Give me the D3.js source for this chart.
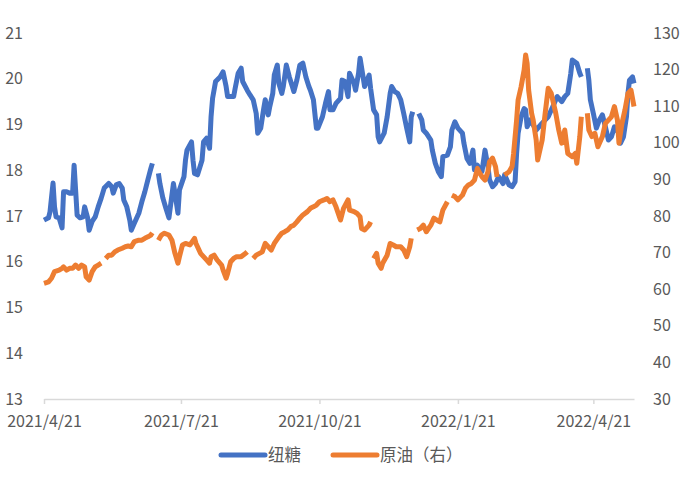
<!DOCTYPE html>
<html>
<head>
<meta charset="utf-8">
<script src="https://cdn.jsdelivr.net/npm/d3@7"></script>
<style>
  body { margin: 0; background: #fff; }
  svg text { font-family: 'Noto Sans CJK SC', 'Noto Sans', sans-serif; fill: #595959; }
</style>
</head>
<body>
<div id="chart"></div>
<script>
// 纽糖 (left axis), null = no quote that day
const sugar = [
  ['2021-04-21', 16.91], ['2021-04-24', 16.96], ['2021-04-25', 17.09], ['2021-04-27', 17.72],
  ['2021-04-28', 17.20], ['2021-04-29', 16.98], ['2021-05-01', 16.96], ['2021-05-03', 16.74],
  ['2021-05-04', 17.53], ['2021-05-06', 17.53], ['2021-05-08', 17.50], ['2021-05-10', 17.50],
  ['2021-05-11', 18.11], ['2021-05-12', 17.57], ['2021-05-13', 17.02], ['2021-05-15', 16.96],
  ['2021-05-17', 16.98], ['2021-05-18', 17.20], ['2021-05-20', 16.96], ['2021-05-21', 16.69],
  ['2021-05-23', 16.88], ['2021-05-25', 16.98], ['2021-05-27', 17.20], ['2021-05-29', 17.39],
  ['2021-05-31', 17.61], ['2021-06-03', 17.71], ['2021-06-05', 17.64], ['2021-06-06', 17.50],
  ['2021-06-08', 17.68], ['2021-06-10', 17.71], ['2021-06-12', 17.61], ['2021-06-13', 17.35],
  ['2021-06-15', 17.20], ['2021-06-17', 16.91], ['2021-06-18', 16.69], ['2021-06-20', 16.84],
  ['2021-06-23', 17.06], ['2021-06-25', 17.31], ['2021-06-27', 17.53], ['2021-06-29', 17.79],
  ['2021-07-01', 18.04], ['2021-07-02', 18.15], ['2021-07-04', null], ['2021-07-06', 17.93],
  ['2021-07-07', 17.71], ['2021-07-09', 17.39], ['2021-07-11', 17.17], ['2021-07-13', 16.96],
  ['2021-07-16', 17.71], ['2021-07-17', 17.50], ['2021-07-19', 17.06], ['2021-07-20', 17.57],
  ['2021-07-23', 17.86], ['2021-07-24', 18.22], ['2021-07-25', 18.44], ['2021-07-28', 18.62],
  ['2021-07-29', 18.22], ['2021-07-30', 17.93], ['2021-08-01', 17.90], ['2021-08-04', 18.22],
  ['2021-08-05', 18.62], ['2021-08-07', 18.70], ['2021-08-09', 18.48], ['2021-08-10', 19.17],
  ['2021-08-11', 19.57], ['2021-08-13', 19.94], ['2021-08-16', 20.04], ['2021-08-18', 20.15],
  ['2021-08-20', 19.83], ['2021-08-21', 19.61], ['2021-08-25', 19.61], ['2021-08-26', 19.79],
  ['2021-08-28', 20.12], ['2021-08-30', 20.23], ['2021-08-31', 19.94], ['2021-09-03', 19.75],
  ['2021-09-05', 19.64], ['2021-09-07', 19.54], ['2021-09-09', 19.24], ['2021-09-10', 18.81],
  ['2021-09-12', 18.92], ['2021-09-14', 19.35], ['2021-09-15', 19.54], ['2021-09-17', 19.21],
  ['2021-09-18', 19.39], ['2021-09-20', 19.68], ['2021-09-21', 20.08], ['2021-09-23', 20.30],
  ['2021-09-24', 19.90], ['2021-09-26', 19.68], ['2021-09-27', 19.83], ['2021-09-29', 20.30],
  ['2021-10-01', 20.04], ['2021-10-03', 19.83], ['2021-10-04', 19.72], ['2021-10-06', 19.97],
  ['2021-10-08', 20.30], ['2021-10-10', 20.34], ['2021-10-12', 20.04], ['2021-10-14', 19.83],
  ['2021-10-15', 19.75], ['2021-10-17', 19.54], ['2021-10-19', 18.92], ['2021-10-20', 18.92],
  ['2021-10-23', 19.17], ['2021-10-25', 19.46], ['2021-10-27', 19.72], ['2021-10-28', 19.32],
  ['2021-10-30', 19.32], ['2021-11-01', 19.46], ['2021-11-04', 19.57], ['2021-11-05', 19.97],
  ['2021-11-07', 19.94], ['2021-11-09', 19.61], ['2021-11-10', 20.12], ['2021-11-13', 19.90],
  ['2021-11-14', 19.75], ['2021-11-16', 20.12], ['2021-11-17', 20.45], ['2021-11-19', 20.04],
  ['2021-11-20', 19.83], ['2021-11-23', 20.08], ['2021-11-24', 19.79], ['2021-11-26', 19.32],
  ['2021-11-28', 19.21], ['2021-11-29', 18.73], ['2021-11-30', 18.62], ['2021-12-03', 18.81],
  ['2021-12-05', 19.17], ['2021-12-07', 19.68], ['2021-12-08', 19.83], ['2021-12-10', 19.72],
  ['2021-12-12', 19.68], ['2021-12-14', 19.54], ['2021-12-16', 19.24], ['2021-12-18', 18.92],
  ['2021-12-20', 18.62], ['2021-12-21', 19.17], ['2021-12-22', 19.28], ['2021-12-24', null],
  ['2021-12-26', 19.24], ['2021-12-28', 19.10], ['2021-12-29', 18.88], ['2021-12-31', 18.81],
  ['2022-01-03', 18.66], ['2022-01-04', 18.44], ['2022-01-06', 18.15], ['2022-01-08', 17.97],
  ['2022-01-10', 17.86], ['2022-01-11', 18.30], ['2022-01-14', 18.33], ['2022-01-16', 18.51],
  ['2022-01-17', 18.88], ['2022-01-19', 19.06], ['2022-01-21', 18.92], ['2022-01-24', 18.81],
  ['2022-01-25', 18.59], ['2022-01-27', 18.26], ['2022-01-29', 18.15], ['2022-01-31', 18.44],
  ['2022-02-01', 18.01], ['2022-02-03', 18.11], ['2022-02-05', 17.97], ['2022-02-06', 17.97],
  ['2022-02-08', 18.44], ['2022-02-10', 18.08], ['2022-02-11', 17.79], ['2022-02-13', 17.64],
  ['2022-02-15', 17.71], ['2022-02-17', 17.86], ['2022-02-20', 17.71], ['2022-02-21', 17.90],
  ['2022-02-24', 17.68], ['2022-02-26', 17.64], ['2022-02-28', 17.75], ['2022-03-01', 18.37],
  ['2022-03-02', 18.81], ['2022-03-04', 19.17], ['2022-03-06', 19.35], ['2022-03-07', 19.32],
  ['2022-03-08', 18.95], ['2022-03-10', 19.10], ['2022-03-14', 18.88], ['2022-03-18', 19.03],
  ['2022-03-22', 19.17], ['2022-03-25', 19.39], ['2022-03-28', 19.61], ['2022-03-31', 19.50],
  ['2022-04-02', 19.61], ['2022-04-04', 19.68], ['2022-04-06', 20.12], ['2022-04-07', 20.41],
  ['2022-04-10', 20.34], ['2022-04-12', 20.12], ['2022-04-13', 20.04], ['2022-04-15', null],
  ['2022-04-17', 20.23], ['2022-04-18', 19.97], ['2022-04-19', 19.54], ['2022-04-21', 19.24],
  ['2022-04-23', 18.92], ['2022-04-25', 19.10], ['2022-04-27', 19.21], ['2022-04-29', 18.95],
  ['2022-05-01', 18.66], ['2022-05-03', 18.73], ['2022-05-05', 18.95], ['2022-05-08', 18.81],
  ['2022-05-09', 18.59], ['2022-05-11', 18.73], ['2022-05-13', 19.17], ['2022-05-14', 19.68],
  ['2022-05-15', 19.97], ['2022-05-17', 20.04], ['2022-05-18', 19.90]
];

// 原油 (right axis)
const oil = [
  ['2021-04-21', 61.6], ['2021-04-24', 62.0], ['2021-04-26', 63.0], ['2021-04-28', 64.8],
  ['2021-05-01', 65.2], ['2021-05-03', 65.7], ['2021-05-04', 66.1], ['2021-05-06', 65.2],
  ['2021-05-08', 65.7], ['2021-05-10', 65.7], ['2021-05-12', 66.6], ['2021-05-14', 65.7],
  ['2021-05-16', 66.6], ['2021-05-18', 66.1], ['2021-05-19', 63.4], ['2021-05-21', 62.5],
  ['2021-05-23', 64.8], ['2021-05-25', 66.1], ['2021-05-27', 66.6], ['2021-05-29', 67.1],
  ['2021-05-31', null], ['2021-06-01', 68.4], ['2021-06-03', 69.3], ['2021-06-05', 69.3],
  ['2021-06-07', 70.2], ['2021-06-09', 70.7], ['2021-06-12', 71.2], ['2021-06-14', 71.6],
  ['2021-06-16', 71.8], ['2021-06-18', 71.6], ['2021-06-20', 73.0], ['2021-06-23', 73.4],
  ['2021-06-25', 73.4], ['2021-06-27', 73.9], ['2021-06-29', 74.3], ['2021-07-01', 74.8],
  ['2021-07-02', 75.4], ['2021-07-04', null], ['2021-07-06', 73.4], ['2021-07-08', 74.8],
  ['2021-07-10', 75.3], ['2021-07-13', 74.8], ['2021-07-15', 73.4], ['2021-07-17', 69.8],
  ['2021-07-19', 67.1], ['2021-07-20', 68.9], ['2021-07-22', 72.1], ['2021-07-24', 72.5],
  ['2021-07-27', 72.1], ['2021-07-30', 73.9], ['2021-07-31', 72.5], ['2021-08-03', 69.8],
  ['2021-08-05', 68.9], ['2021-08-07', 68.0], ['2021-08-09', 67.1], ['2021-08-10', 68.9],
  ['2021-08-12', 69.3], ['2021-08-14', 68.0], ['2021-08-17', 66.6], ['2021-08-18', 65.2],
  ['2021-08-20', 63.0], ['2021-08-21', 64.3], ['2021-08-23', 67.5], ['2021-08-25', 68.4],
  ['2021-08-27', 68.9], ['2021-08-30', 68.9], ['2021-09-02', 69.8], ['2021-09-03', 70.2],
  ['2021-09-05', null], ['2021-09-07', 68.4], ['2021-09-09', 69.3], ['2021-09-13', 70.2],
  ['2021-09-15', 72.5], ['2021-09-17', 71.6], ['2021-09-19', 70.7], ['2021-09-21', 72.5],
  ['2021-09-24', 74.3], ['2021-09-26', 75.3], ['2021-09-28', 75.7], ['2021-09-30', 76.2],
  ['2021-10-02', 77.1], ['2021-10-04', 77.5], ['2021-10-06', 78.4], ['2021-10-08', 79.4],
  ['2021-10-10', 80.3], ['2021-10-13', 81.2], ['2021-10-15', 82.1], ['2021-10-17', 82.5],
  ['2021-10-19', 83.0], ['2021-10-21', 83.9], ['2021-10-24', 84.4], ['2021-10-26', 84.8],
  ['2021-10-28', 83.9], ['2021-10-30', 84.4], ['2021-11-01', 82.5], ['2021-11-04', 78.9],
  ['2021-11-06', 82.1], ['2021-11-09', 84.4], ['2021-11-10', 81.6], ['2021-11-13', 81.2],
  ['2021-11-15', 80.7], ['2021-11-17', 79.8], ['2021-11-18', 76.6], ['2021-11-20', 76.2],
  ['2021-11-23', 77.5], ['2021-11-24', 78.4], ['2021-11-25', null], ['2021-11-26', 68.4],
  ['2021-11-28', 69.8], ['2021-11-29', 67.1], ['2021-12-01', 65.7], ['2021-12-02', 67.1],
  ['2021-12-05', 69.3], ['2021-12-07', 72.5], ['2021-12-09', 72.1], ['2021-12-11', 71.6],
  ['2021-12-14', 71.6], ['2021-12-16', 70.7], ['2021-12-18', 68.9], ['2021-12-20', 71.6],
  ['2021-12-21', 73.9], ['2021-12-23', null], ['2021-12-25', 76.2], ['2021-12-27', 76.6],
  ['2021-12-29', 77.5], ['2021-12-31', 75.7], ['2022-01-03', 77.5], ['2022-01-05', 79.4],
  ['2022-01-07', 78.9], ['2022-01-09', 78.4], ['2022-01-11', 81.6], ['2022-01-14', 83.9],
  ['2022-01-16', null], ['2022-01-17', 85.7], ['2022-01-19', 85.3], ['2022-01-21', 84.4],
  ['2022-01-24', 85.7], ['2022-01-26', 87.6], ['2022-01-28', 88.5], ['2022-01-30', 88.9],
  ['2022-02-01', 89.8], ['2022-02-03', 93.0], ['2022-02-04', 92.1], ['2022-02-06', 90.7],
  ['2022-02-08', 89.8], ['2022-02-10', 92.1], ['2022-02-11', 94.8], ['2022-02-13', 95.8],
  ['2022-02-15', 93.5], ['2022-02-16', 90.7], ['2022-02-19', null], ['2022-02-21', 91.2],
  ['2022-02-24', 92.1], ['2022-02-26', 93.5], ['2022-02-27', 97.1], ['2022-03-01', 106.2],
  ['2022-03-02', 111.7], ['2022-03-04', 115.3], ['2022-03-06', 119.9], ['2022-03-07', 124.0],
  ['2022-03-08', 121.7], ['2022-03-09', 114.4], ['2022-03-11', 108.0], ['2022-03-12', 106.2],
  ['2022-03-14', 100.8], ['2022-03-15', 95.3], ['2022-03-18', 100.8], ['2022-03-20', 108.1],
  ['2022-03-22', 114.9], ['2022-03-24', 113.5], ['2022-03-27', 108.1], ['2022-03-29', 103.5],
  ['2022-03-31', 99.9], ['2022-04-02', 103.5], ['2022-04-04', 97.1], ['2022-04-07', 96.2],
  ['2022-04-09', 97.1], ['2022-04-10', 94.4], ['2022-04-12', 101.7], ['2022-04-13', 107.1],
  ['2022-04-15', null], ['2022-04-17', 108.1], ['2022-04-18', 103.5], ['2022-04-20', 101.7],
  ['2022-04-22', 102.6], ['2022-04-24', 98.9], ['2022-04-27', 101.7], ['2022-04-29', 105.3],
  ['2022-05-01', 106.2], ['2022-05-03', 107.1], ['2022-05-05', 109.9], ['2022-05-07', 106.2],
  ['2022-05-08', 99.9], ['2022-05-10', 105.3], ['2022-05-12', 109.0], ['2022-05-14', 113.5],
  ['2022-05-16', 114.4], ['2022-05-18', 109.9]
];

const xTicks = ['2021-04-21', '2021-07-21', '2021-10-21', '2022-01-21', '2022-04-21'];
const leftTicks = [13, 14, 15, 16, 17, 18, 19, 20, 21];
const rightTicks = [30, 40, 50, 60, 70, 80, 90, 100, 110, 120, 130];
const series = [
  {name: '纽糖', data: sugar, axis: 'left', color: '#4472C4'},
  {name: '原油（右）', data: oil, axis: 'right', color: '#ED7D31'}
];

let margin = {top: 33, right: 50, bottom: 90, left: 44},
  width = 684 - margin.left - margin.right,
  height = 489 - margin.top - margin.bottom;

let parse = d3.timeParse('%Y-%m-%d');
let fmt = d3.timeFormat('%Y/%-m/%-d');

let sx = d3.scaleTime()
  .domain([parse('2021-04-21'), parse('2022-05-18')])
  .range([0, width]);
let syL = d3.scaleLinear().domain([13, 21]).range([height, 0]);
let syR = d3.scaleLinear().domain([30, 130]).range([height, 0]);

let svg = d3.select('#chart')
  .append('svg')
    .attr('width', 684)
    .attr('height', 489)
  .append('g')
    .attr('transform', `translate(${margin.left},${margin.top})`);

// x axis
let xAxis = svg.append('g')
  .attr('class', 'x axis')
  .attr('transform', `translate(0,${height})`)
  .call(d3.axisBottom(sx)
    .tickValues(xTicks.map(parse))
    .tickFormat(fmt)
    .tickSize(5)
    .tickSizeOuter(0));
xAxis.select('.domain').attr('stroke', '#D9D9D9').attr('stroke-width', 1.5);
xAxis.selectAll('.tick line').attr('stroke', '#D9D9D9').attr('stroke-width', 1.5);
xAxis.selectAll('.tick text')
  .attr('y', 17)
  .style('font-size', '16px');

// left axis
let yl = svg.append('g')
  .attr('class', 'y axis')
  .call(d3.axisLeft(syL).tickValues(leftTicks).tickSize(0).tickPadding(21));
yl.select('.domain').remove();
yl.selectAll('.tick text').style('font-size', '16px');

// right axis
let yr = svg.append('g')
  .attr('class', 'y axis right')
  .attr('transform', `translate(${width},0)`)
  .call(d3.axisRight(syR).tickValues(rightTicks).tickSize(0).tickPadding(19));
yr.select('.domain').remove();
yr.selectAll('.tick text').style('font-size', '16px');

svg.selectAll('.axis text').attr('fill', '#595959').style('font-family', "'Noto Sans CJK SC', sans-serif");

// lines
for (let s of series) {
  let sy = s.axis === 'left' ? syL : syR;
  let line = d3.line()
    .defined(d => d[1] !== null)
    .x(d => sx(parse(d[0])))
    .y(d => sy(d[1]));
  svg.append('path')
    .datum(s.data)
    .attr('fill', 'none')
    .attr('stroke', s.color)
    .attr('stroke-width', 5)
    .attr('stroke-linejoin', 'round')
    .attr('d', line);
}

// legend
let legend = svg.append('g')
  .attr('class', 'legend')
  .attr('transform', `translate(${221 - margin.left},${455 - margin.top})`);
let lx = [0, 112];
series.forEach((s, i) => {
  let g = legend.append('g').attr('transform', `translate(${lx[i]},0)`);
  g.append('line')
    .attr('x1', 0).attr('x2', 44)
    .attr('stroke', s.color)
    .attr('stroke-width', 5)
    .attr('stroke-linecap', 'round');
  g.append('text')
    .attr('x', 47)
    .attr('dy', '0.35em')
    .style('font-size', '16.5px')
    .text(s.name);
});
</script>
</body>
</html>
